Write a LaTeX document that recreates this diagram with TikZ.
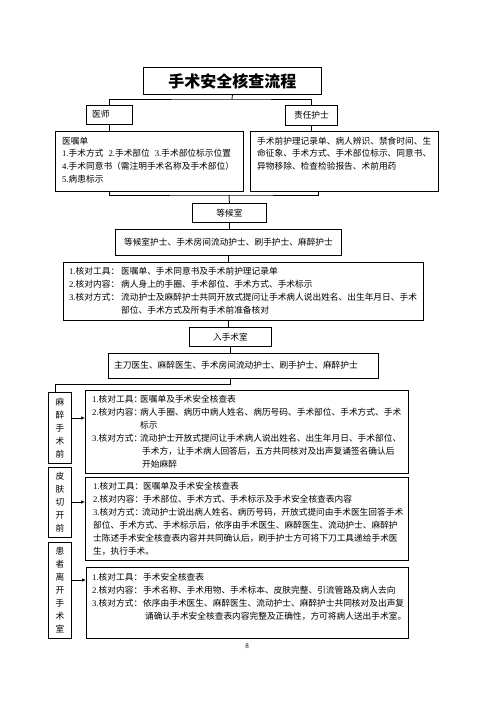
\documentclass[tikz,border=0pt]{standalone}
\usepackage{fontspec}
\setmainfont{Noto Sans CJK SC}
\newfontfamily\tms{Liberation Serif}
\usetikzlibrary{arrows.meta}
\newcommand\nm[1]{{\tms #1}}
\newcommand\lb[2]{\makebox[#1][l]{#2}}
\begin{document}
\begin{tikzpicture}[x=1pt,y=-1pt,
  bx/.style={draw, line width=0.9pt, inner sep=0pt, anchor=north west},
  txt/.style={inner sep=0pt, font=\fontsize{8.7}{13}\selectfont},
  ln/.style={line width=0.8pt},
  arr/.style={line width=0.8pt, -{Latex[length=4pt,width=3.5pt]}}]
\fill[white] (0,0) rectangle (496,702);
\useasboundingbox (0,0) rectangle (496,702);

% title and first row
\node[bx, minimum width=178pt, minimum height=27pt, font=\fontsize{16}{18}\selectfont\bfseries] (title) at (143,67) {手术安全核查流程};
\node[bx, minimum width=46pt, minimum height=19pt] (ys) at (86,105) {};
\node[txt, anchor=west] (tys) at (92,114.5) {医师};
\node[bx, txt, minimum width=52pt, minimum height=20pt] (zr) at (285,105) {责任护士};

\node[bx, minimum width=188pt, minimum height=60pt] (lc) at (55,131) {};
\node[txt, anchor=base west] (tlc) at (62,144.2) {\fontsize{8.7}{12.7}\selectfont\begin{tabular}[t]{@{}l@{}}医嘱单\\ \nm{1.}手术方式\hspace{5pt}\nm{2.}手术部位\hspace{5pt}\nm{3.}手术部位标示位置\\ \nm{4.}手术同意书（需注明手术名称及手术部位）\\ \nm{5.}病患标示\end{tabular}};

\node[bx, minimum width=188pt, minimum height=60pt] (rc) at (250,131) {};
\node[txt, anchor=base west] (trc) at (257,144.2) {\fontsize{8.7}{12.7}\selectfont\begin{tabular}[t]{@{}l@{}}手术前护理记录单、病人辨识、禁食时间、生\\ 命征象、手术方式、手术部位标示、同意书、\\ 异物移除、检查检验报告、术前用药\end{tabular}};

% waiting room
\node[bx, txt, minimum width=74pt, minimum height=19pt] (wait) at (192,203) {等候室};
\node[bx, txt, minimum width=226pt, minimum height=26pt] (s1) at (115,229) {等候室护士、手术房间流动护士、刷手护士、麻醉护士};

\node[bx, minimum width=360pt, minimum height=58pt] (b1) at (63,262) {};
\node[txt, anchor=base west] (tb1) at (69,274.2) {\begin{tabular}[t]{@{}l@{}}\lb{52pt}{\nm{1.}核对工具：}医嘱单、手术同意书及手术前护理记录单\\ \lb{52pt}{\nm{2.}核对内容：}病人身上的手圈、手术部位、手术方式、手术标示\\ \lb{52pt}{\nm{3.}核对方式：}流动护士及麻醉护士共同开放式提问让手术病人说出姓名、出生年月日、手术\\ \hspace*{52pt}部位、手术方式及所有手术前准备核对\end{tabular}};

% operating room
\node[bx, txt, minimum width=82pt, minimum height=19pt] (in) at (189,327) {入手术室};
\node[bx, minimum width=270pt, minimum height=25pt] (s2) at (108,353) {};
\node[txt, anchor=west] (ts2) at (114,365.5) {主刀医生、麻醉医生、手术房间流动护士、刷手护士、麻醉护士};

% left labels
\node[bx, txt, align=center, minimum width=23pt, minimum height=71pt] (L1) at (48,392) {麻\\醉\\手\\术\\前};
\node[bx, txt, align=center, minimum width=23pt, minimum height=70pt] (L2) at (48,467) {皮\\肤\\切\\开\\前};
\node[bx, txt, align=center, minimum width=23pt, minimum height=96pt] (L3) at (48,542) {患\\者\\离\\开\\手\\术\\室};

% check boxes
\node[bx, minimum width=323pt, minimum height=83pt] (b2) at (85,390) {};
\node[txt, anchor=base west] (tb2) at (92,402.2) {\begin{tabular}[t]{@{}l@{}}\lb{48pt}{\nm{1.}核对工具：}医嘱单及手术安全核查表\\ \lb{48pt}{\nm{2.}核对内容：}病人手圈、病历中病人姓名、病历号码、手术部位、手术方式、手术\\ \hspace*{48pt}标示\\ \lb{48pt}{\nm{3.}核对方式：}流动护士开放式提问让手术病人说出姓名、出生年月日、手术部位、\\ \hspace*{50pt}手术方，让手术病人回答后，五方共同核对及出声复诵签名确认后\\ \hspace*{50pt}开始麻醉\end{tabular}};

\node[bx, minimum width=323pt, minimum height=83pt] (b3) at (85,477) {};
\node[txt, anchor=base west] (tb3) at (93,489.2) {\begin{tabular}[t]{@{}l@{}}\lb{50pt}{\nm{1.}核对工具：}医嘱单及手术安全核查表\\ \lb{50pt}{\nm{2.}核对内容：}手术部位、手术方式、手术标示及手术安全核查表内容\\ \lb{49pt}{\nm{3.}核对方式：}流动护士说出病人姓名、病历号码，开放式提问由手术医生回答手术\\ 部位、手术方式、手术标示后，依序由手术医生、麻醉医生、流动护士、麻醉护\\ 士陈述手术安全核查表内容并共同确认后，刷手护士方可将下刀工具递给手术医\\ 生，执行手术。\end{tabular}};

\node[bx, minimum width=322pt, minimum height=71pt] (b4) at (86,567) {};
\node[txt, anchor=base west] (tb4) at (92,580.2) {\begin{tabular}[t]{@{}l@{}}\lb{51pt}{\nm{1.}核对工具：}手术安全核查表\\ \lb{51pt}{\nm{2.}核对内容：}手术名称、手术用物、手术标本、皮肤完整、引流管路及病人去向\\ \lb{51pt}{\nm{3.}核对方式：}依序由手术医生、麻醉医生、流动护士、麻醉护士共同核对及出声复\\ \hspace*{53pt}诵确认手术安全核查表内容完整及正确性，方可将病人送出手术室。\end{tabular}};

\node[inner sep=0pt, font=\tms\fontsize{7}{8}\selectfont] (pg) at (247,646) {8};

% connectors
\coordinate (jt) at (232,99);
\coordinate (jb) at (229,195);
\coordinate (rb) at (318,191);
\coordinate (jl) at (55,384);
\coordinate (a1) at (0,418);
\coordinate (a2) at (0,502);
\coordinate (a3) at (0,580);
\draw[ln] (title.south) -- (jt);
\draw[ln] (ys.north) |- (jt) -| (zr.north);
\draw[ln] (ys.south) -- (ys.south |- lc.north);
\draw[ln] (zr.south) -- (zr.south |- rc.north);
\draw[ln] (ys.south |- lc.south) |- (jb) -| (rb);
\draw[ln] (jb) -- (wait.north);
\draw[ln] (wait.south) -- (wait.south |- s1.north);
\draw[ln] (s1.south) -- (s1.south |- b1.north);
\draw[ln] (s1.south |- b1.south) -- (s1.south |- in.north);
\draw[ln] (in.south) -- (in.south |- s2.north);
\draw[ln] (in.south |- s2.south) |- (jl) -- (jl |- L1.north);
\draw[arr] (L1.east |- a1) -- (b2.west |- a1);
\draw[arr] (L2.east |- a2) -- (b3.west |- a2);
\draw[arr] (L3.east |- a3) -- (b4.west |- a3);
\end{tikzpicture}
\end{document}
